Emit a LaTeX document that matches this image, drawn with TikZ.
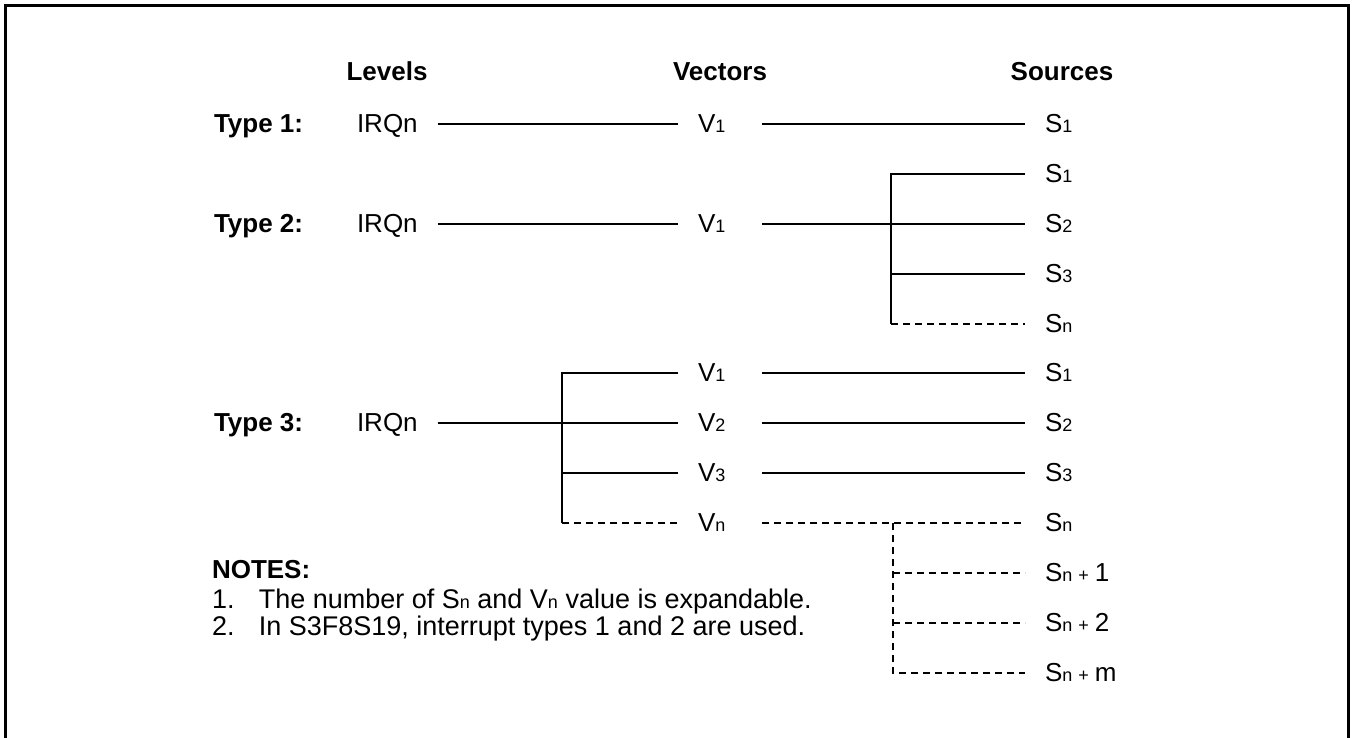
\documentclass[tikz,border=0pt]{standalone}
\usepackage{fontspec}
\setmainfont{Liberation Sans}
\newcommand{\subtxt}[1]{{\fontsize{18}{18}\selectfont #1}}
\newcommand{\subplus}{\subtxt{n\hspace{6pt}+\hspace{6pt}}}
\tikzset{
  lbl/.style={inner sep=0pt, outer xsep=20pt, text height=17pt, text depth=0pt, anchor=west, font=\fontsize{26}{31}\selectfont},
  bold/.style={lbl, font=\fontsize{26}{31}\selectfont\bfseries},
  hdr/.style={bold, anchor=center},
  vec/.style={lbl, text width=44pt},
  note/.style={lbl, font=\fontsize{27}{32}\selectfont},
  wire/.style={line width=2pt},
  dashwire/.style={line width=2pt, dash pattern=on 7pt off 5pt}
}
\begin{document}
\begin{tikzpicture}[x=1pt,y=-1pt]
    \useasboundingbox (0,0) rectangle (1352,738);
    % Frame, open at the bottom
    \draw[line width=3pt] (5,738) -- (5,6) -- (1348,6) -- (1348,738);
    % Headings
    \node[hdr] (hdrlev) at (387,72) {Levels};
    \node[hdr] (hdrvec) at (720,72) {Vectors};
    \node[hdr] (hdrsrc) at (1062,72) {Sources};
    % Type 1
    \node[bold] (typea) at (194,124) {Type 1:};
    \node[lbl] (irqa) at (337,124) {IRQn};
    \node[vec] (va) at (678,124) {V\subtxt{1}};
    \node[lbl] (sa) at (1025,124) {S\subtxt{1}};
    \draw[wire] (irqa.east) -- (va.west);
    \draw[wire] (va.east) -- (sa.west);
    % Type 2
    \node[bold] (typeb) at (194,224) {Type 2:};
    \node[lbl] (irqb) at (337,224) {IRQn};
    \node[vec] (vb) at (678,224) {V\subtxt{1}};
    \node[lbl] (sb1) at (1025,174) {S\subtxt{1}};
    \node[lbl] (sb2) at (1025,224) {S\subtxt{2}};
    \node[lbl] (sb3) at (1025,274) {S\subtxt{3}};
    \node[lbl] (sbn) at (1025,324) {S\subtxt{n}};
    \coordinate (jb) at (891,324);
    \draw[wire] (irqb.east) -- (vb.west);
    \draw[wire] (vb.east) -- (sb2.west);
    \draw[wire] (sb1.west) -| (jb);
    \draw[wire] (sb3.west -| jb) -- (sb3.west);
    \draw[dashwire] (jb) -- (sbn.west);
    % Type 3
    \node[bold] (typec) at (194,423) {Type 3:};
    \node[lbl] (irqc) at (337,423) {IRQn};
    \node[vec] (vc1) at (678,373) {V\subtxt{1}};
    \node[vec] (vc2) at (678,423) {V\subtxt{2}};
    \node[vec] (vc3) at (678,473) {V\subtxt{3}};
    \node[vec] (vcn) at (678,523) {V\subtxt{n}};
    \node[lbl] (sc1) at (1025,373) {S\subtxt{1}};
    \node[lbl] (sc2) at (1025,423) {S\subtxt{2}};
    \node[lbl] (sc3) at (1025,473) {S\subtxt{3}};
    \node[lbl] (scn) at (1025,523) {S\subtxt{n}};
    \node[lbl] (scn1) at (1025,573) {S\subplus 1};
    \node[lbl] (scn2) at (1025,623) {S\subplus 2};
    \node[lbl] (scm) at (1025,673) {S\subplus m};
    \coordinate (jc) at (562,523);
    \coordinate (jd) at (893,673);
    \draw[wire] (irqc.east) -- (vc2.west);
    \draw[wire] (vc1.west) -| (jc);
    \draw[wire] (vc3.west -| jc) -- (vc3.west);
    \draw[dashwire] (jc) -- (vcn.west);
    \draw[wire] (vc1.east) -- (sc1.west);
    \draw[wire] (vc2.east) -- (sc2.west);
    \draw[wire] (vc3.east) -- (sc3.west);
    \draw[dashwire] (vcn.east) -- (scn.west);
    \draw[dashwire] (scn.west -| jd) -- (jd) -- (scm.west);
    \draw[dashwire] (scn1.west -| jd) -- (scn1.west);
    \draw[dashwire] (scn2.west -| jd) -- (scn2.west);
    % Notes
    \node[bold] (notes) at (192,570) {NOTES:};
    \node[note] (notea) at (192,600) {1.\hspace{0.9em}The number of S\subtxt{n} and V\subtxt{n} value is expandable.};
    \node[note] (noteb) at (192,627) {2.\hspace{0.9em}In S3F8S19, interrupt types 1 and 2 are used.};
\end{tikzpicture}
\end{document}
